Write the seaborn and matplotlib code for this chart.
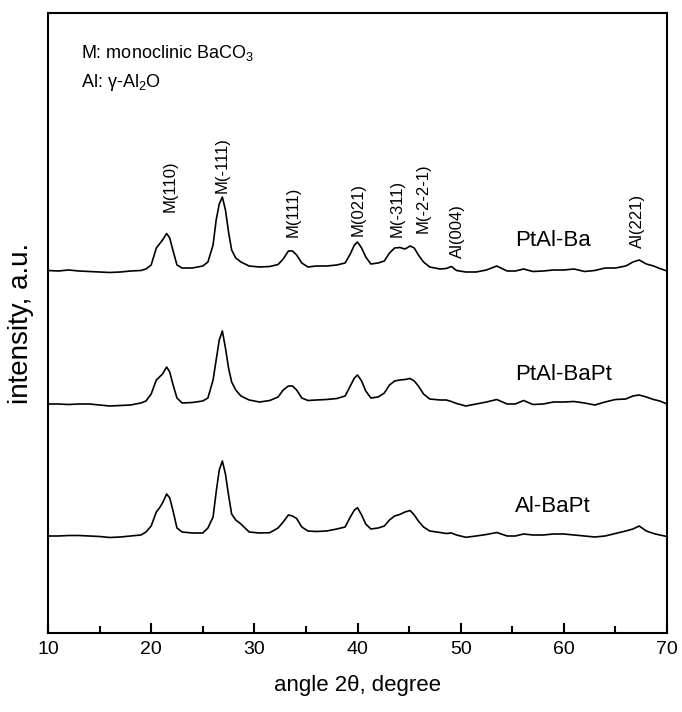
import numpy as np
import pandas as pd
import matplotlib
matplotlib.use("Agg")
import matplotlib.pyplot as plt
import seaborn as sns

sns.set_style("ticks")
plt.rcParams['font.family'] = ['Liberation Sans', 'DejaVu Sans']
plt.rcParams['mathtext.fontset'] = 'custom'
plt.rcParams['mathtext.rm'] = 'Liberation Sans'
plt.rcParams['mathtext.it'] = 'Liberation Sans:italic'
for key in ['text.color', 'axes.labelcolor', 'xtick.color', 'ytick.color', 'axes.edgecolor']:
    plt.rcParams[key] = 'black'

# 2-theta grid shared by the three patterns
angle = [10, 11, 12, 13, 14, 15, 16, 17, 18, 19, 19.5, 20, 20.5, 20.8, 21.1, 21.5,
         21.8, 22.1, 22.5, 23, 24, 25, 25.5, 26, 26.3, 26.6, 26.9, 27.2, 27.5, 27.8,
         28.2, 28.7, 29.5, 30.5, 31.5, 32.3, 32.8, 33.3, 33.7, 34.1, 34.6, 35.2, 36,
         37, 38, 38.8, 39.3, 39.7, 40.0, 40.4, 40.8, 41.3, 42, 42.6, 43.1, 43.6, 44.1,
         44.6, 45.1, 45.5, 45.9, 46.4, 47, 48, 48.6, 49.1, 49.6, 50.5, 51.5, 52.5,
         53.5, 54.5, 55.3, 56.1, 57, 58, 59, 60, 61, 62, 63, 64, 65, 66, 66.7, 67.3,
         68, 68.7, 69.3, 70]

# intensities above each pattern's own baseline (a.u.)
ptal_ba = [-0.5, -1, 0, -1, -1.5, -2, -2.5, -2, -1, -0.5, 1, 5, 22, 26, 30, 36.5,
           32, 20, 5, 2, 2, 4, 8, 25, 50, 66, 73, 60, 38, 20,
           12, 8, 4, 3, 3.5, 5.5, 11, 19, 19, 15, 7, 3, 4,
           4, 5, 7, 16, 25, 28, 22, 13, 6, 7, 9, 17, 22, 22.5,
           21, 24, 22, 15, 8, 3, 1, 1.5, 3.5, -0.5, -2, -2, 0,
           4, -1, -1, 1, -1.5, -1, 0, 0, 1, -1.5, -0.5, 2, 2, 4, 8, 10,
           6, 4, 1.5, -1]

ptal_bapt = [0, 0, -0.5, 0, 0, -1, -2, -1.5, -1, 1, 3, 10, 24, 27, 30, 37,
             32, 20, 6, 1, 1.5, 3, 6, 24, 44, 64, 73, 56, 36, 22,
             14, 8, 4, 2, 3.5, 7, 14, 18, 18, 14, 6, 3.5, 4,
             4.5, 5.5, 8, 18, 26, 29, 23, 13, 6, 7, 11, 19, 23, 24,
             24.5, 25.5, 23, 18, 10, 5, 4, 4, 2.5, 0.5, -2, 0, 2,
             4.5, 0, 0, 3.5, -0.5, 0, 2, 2, 2.5, 1, -1, 2, 4.5, 5, 8, 9,
             7, 4.5, 3, 0]

al_bapt = [0, 0, 0.5, 0.5, 0, -0.5, -1.5, -1, 0, 1, 4, 10, 24, 28, 33, 42,
           38, 26, 8, 4, 3, 3, 8, 19, 44, 66, 75, 62, 41, 22,
           16, 12, 4, 3, 3.3, 8, 14, 21, 20, 17.5, 9, 5, 4.5,
           5, 7, 9, 19, 26, 28.3, 21, 12, 7, 8, 10, 16, 20, 21.5,
           24, 25.5, 21, 15, 9, 5, 3.5, 2.5, 3, 1, -1.3, 0, 1.5,
           3.5, 0, 0, 2, 1, 1, 2, 2, 1, 0, -1, 0, 2.5, 5, 7, 10,
           5, 2.5, 1, -0.5]

samples = ['PtAl-Ba', 'PtAl-BaPt', 'Al-BaPt']
offsets = [363, 229, 97]

frames = []
for name, vals, off in zip(samples, [ptal_ba, ptal_bapt, al_bapt], offsets):
    d = pd.DataFrame({'angle': angle, 'intensity': vals})
    d['shifted'] = d['intensity'] + off
    d['sample'] = name
    frames.append(d)
df = pd.concat(frames, ignore_index=True)

# reflection labels
peak_labels = ['M(110)', 'M(-111)', 'M(111)', 'M(021)', 'M(-311)', 'M(-2-2-1)', 'Al(004)', 'Al(221)']
peak_pos = [21.8, 26.9, 33.8, 40.1, 43.85, 46.4, 49.7, 67.1]
peak_text_y = [421, 440, 396, 397, 396, 400, 375, 385]

fig = plt.figure(figsize=(6.82, 7.12), dpi=100)
ax = fig.add_axes([48 / 682, 79 / 712, 619 / 682, 620 / 712])

sns.lineplot(data=df, x='angle', y='shifted', hue='sample', units='sample',
             palette=['black'] * 3, estimator=None, sort=False, legend=False,
             linewidth=1.2, ax=ax)

ax.set_xlim(10, 70)
ax.set_ylim(0, 620)
ax.set_xticks(range(10, 71, 10))
ax.set_xticks(range(15, 70, 10), minor=True)
ax.set_yticks([])
ax.tick_params(axis='x', which='major', direction='in', length=7, width=1.5,
               labelsize=14, pad=6)
ax.tick_params(axis='x', which='minor', direction='in', length=5, width=1.5)
for s in ax.spines.values():
    s.set_linewidth(1.5)
    s.set_visible(True)

ax.set_xlabel('angle 2θ, degree', fontsize=16, labelpad=12)
ax.set_ylabel('intensity, a.u.', fontsize=20, labelpad=10)

for lab, px, py in zip(peak_labels, peak_pos, peak_text_y):
    ax.text(px, py, lab, rotation=90, ha='center', va='bottom', fontsize=12)

for name, off in zip(samples, offsets):
    ax.text(55.25, off + 30, name, ha='left', va='center', fontsize=16)

ax.text(13.2, 575, r'M: monoclinic BaCO$_3$', fontsize=13, va='baseline')
ax.text(13.2, 546, r'Al: γ-Al$_2$O', fontsize=13, va='baseline')

fig.savefig('out.png', dpi=100)
